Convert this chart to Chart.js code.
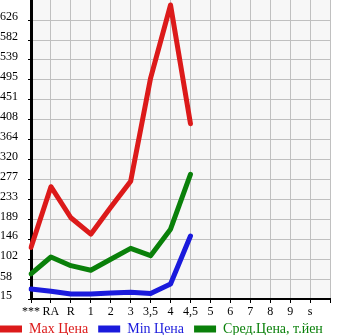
<!DOCTYPE html>
<html>
<head>
<meta charset="utf-8">
<script src="https://cdn.jsdelivr.net/npm/chart.js@4"></script>
<style>
html, body { margin: 0; padding: 0; background: #fff; }
#wrap { width: 345px; height: 335px; }
</style>
</head>
<body>
<div id="wrap"><canvas id="chart"></canvas></div>
<script>
// grades on the x axis, last empty slot closes the grid
let grades = ['***', 'RA', 'R', '1', '2', '3', '3,5', '4', '4,5', '5', '6', '7', '8', '9', 's', ''];
let maxPrice = [128, 261, 193, 157, 216, 273, 499, 659, 399];
let minPrice = [37, 32, 26, 26, 28, 30, 27, 48, 153];
let avgPrice = [70, 107, 88, 78, 102, 126, 110, 168, 288];
let yTicks = [15, 58, 102, 146, 189, 233, 277, 320, 364, 408, 451, 495, 539, 582, 626];

const serif = 'Liberation Serif';

const plotBg = {
    id: 'plotBg',
    beforeDraw(chart) {
        let a = chart.chartArea;
        let ctx = chart.ctx;
        ctx.save();
        ctx.fillStyle = '#f7f7f7';
        ctx.fillRect(a.left, a.top, a.right - a.left, a.bottom - a.top);
        ctx.restore();
    }
};

// pull the legend flush with the left edge and up under the axis labels
const legendShift = {
    id: 'legendShift',
    afterLayout(chart) {
        chart.legend.left -= 10;
        chart.legend.top -= 8;
    }
};

function line(label, data, color) {
    return {
        label: label,
        data: data,
        borderColor: color,
        backgroundColor: color,
        borderWidth: 5,
        borderCapStyle: 'round',
        borderJoinStyle: 'round',
        pointRadius: 0,
        tension: 0,
        fill: false
    };
}

let ctx = document.getElementById('chart');
let myChart = new Chart(ctx, {
    type: 'line',
    data: {
        labels: grades,
        datasets: [
            line('Max Цена', maxPrice, '#dc1a1a'),
            line('Min Цена', minPrice, '#1a1adc'),
            line('Сред.Цена, т.йен', avgPrice, '#0a800a')
        ]
    },
    options: {
        responsive: true,
        maintainAspectRatio: false,
        animation: false,
        layout: { padding: { left: 0, right: 0, top: 0, bottom: -19 } },
        plugins: {
            tooltip: { enabled: false },
            legend: {
                position: 'bottom',
                align: 'start',
                labels: {
                    boxWidth: 22,
                    boxHeight: 7,
                    useBorderRadius: true,
                    borderRadius: 3.5,
                    padding: 10,
                    font: { family: serif, size: 14 },
                    generateLabels: function (chart) {
                        return chart.data.datasets.map((d, i) => ({
                            text: d.label,
                            fillStyle: d.borderColor,
                            strokeStyle: d.borderColor,
                            fontColor: d.borderColor,
                            lineWidth: 0,
                            hidden: false,
                            datasetIndex: i
                        }));
                    }
                }
            }
        },
        scales: {
            x: {
                type: 'category',
                offset: false,
                grid: { color: '#c0c0c0', lineWidth: 1, tickLength: 4, tickColor: '#000' },
                border: { color: '#000', width: 2 },
                ticks: {
                    autoSkip: false,
                    maxRotation: 0,
                    padding: 2,
                    color: '#000',
                    font: { family: serif, size: 12 }
                },
                afterFit: function (s) {
                    s.height = 21;
                    s.paddingLeft = 0;
                    s.paddingRight = 0;
                }
            },
            y: {
                min: 15,
                max: 670,
                afterBuildTicks: function (s) {
                    s.ticks = yTicks.map(v => ({ value: v }));
                },
                grid: { color: '#c0c0c0', lineWidth: 1, tickLength: 3, tickColor: '#000' },
                border: { color: '#000', width: 3 },
                ticks: {
                    crossAlign: 'far',
                    labelOffset: -3,
                    padding: 2,
                    color: '#000',
                    font: { family: serif, size: 12 },
                    callback: v => String(v)
                },
                afterFit: function (s) {
                    s.width = 31;
                    s.paddingTop = 0;
                    s.paddingBottom = 0;
                }
            },
            // empty right margin column
            yRight: {
                position: 'right',
                grid: { display: false },
                border: { display: false },
                ticks: { display: false },
                afterFit: function (s) {
                    s.width = 15;
                }
            }
        }
    },
    plugins: [plotBg, legendShift]
});
</script>
</body>
</html>
